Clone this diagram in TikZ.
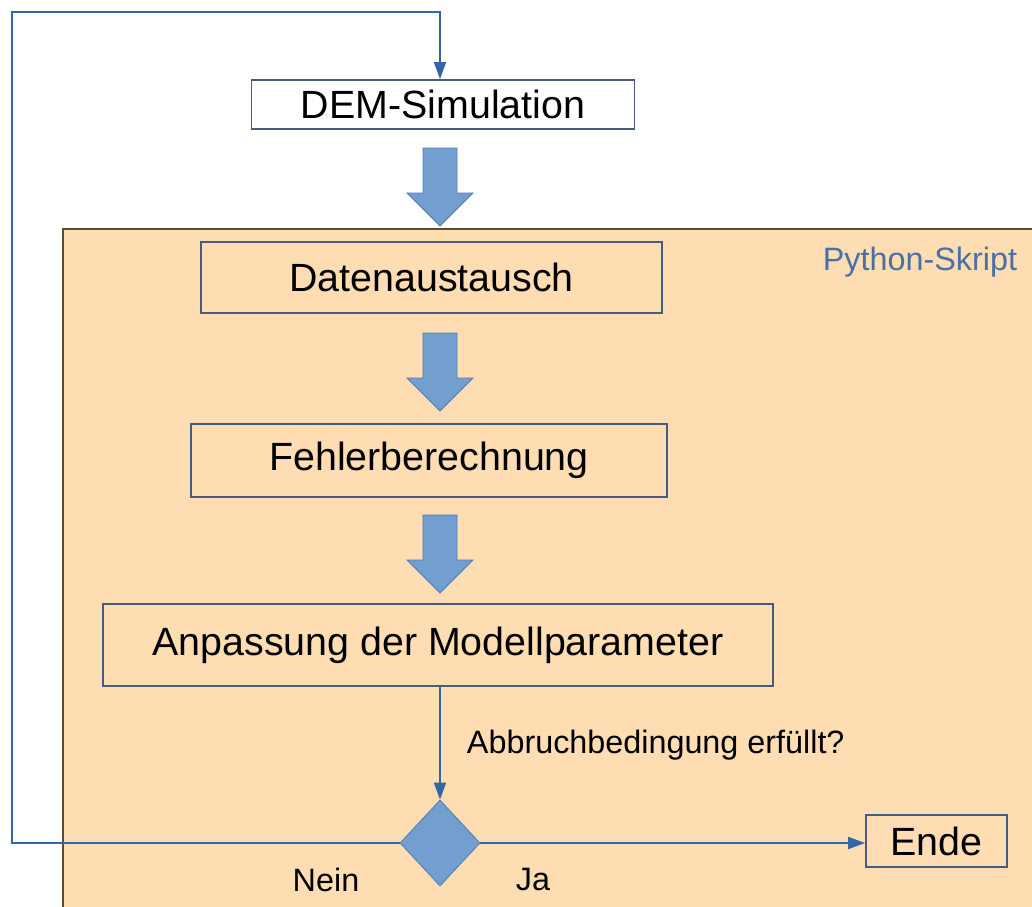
\documentclass[tikz,border=0pt]{standalone}
\usepackage{fontspec}
\setmainfont{Liberation Sans}
\usetikzlibrary{shapes.geometric,arrows.meta}
\definecolor{pyorange}{RGB}{253,221,177}
\definecolor{pyborder}{RGB}{96,74,52}
\definecolor{flowblue}{RGB}{52,101,164}
\definecolor{boxedge}{RGB}{70,92,124}
\definecolor{arrowblue}{RGB}{114,159,207}
\definecolor{arrowedge}{RGB}{82,124,180}
\definecolor{pytext}{RGB}{74,112,166}

\tikzset{
    stepbox/.style={draw=boxedge, line width=1.1pt, inner sep=0pt, font=\fontsize{28}{32}\selectfont},
    flowline/.style={draw=flowblue, line width=1.1pt, -{Triangle[length=12pt,width=8.5pt]}},
    smalltext/.style={font=\fontsize{23}{27}\selectfont},
    pics/blockarrow/.style={code={
        \draw[fill=arrowblue, draw=arrowedge, line width=0.6pt]
            (-17,0) -- (17,0) -- (17,45) -- (33,45) -- (0,78) -- (-33,45) -- (-17,45) -- cycle;
    }}
}

\begin{document}
\begin{tikzpicture}[x=0.025cm, y=-0.025cm]
    % Fix the canvas to the size of the reference
    \useasboundingbox (0,0) rectangle (1032,907);
    % Orange area of the Python script
    \fill[pyorange] (63,229) rectangle (1032,907);
    \draw[pyborder, line width=1.2pt] (63,907) -- (63,229) -- (1032,229);
    \node[smalltext, text=pytext, anchor=east] (pylabel) at (1022,262) {Python-Skript};
    % Process steps
    \node[stepbox, fill=white, minimum width=9.58cm, minimum height=1.23cm] (dem) at (443,104.5) {DEM-Simulation};
    \node[stepbox, minimum width=11.53cm, minimum height=1.78cm] (daten) at (431.5,277.5) {Datenaustausch};
    \node[stepbox, minimum width=11.9cm, minimum height=1.83cm] (fehler) at (429,460.5) {Fehlerberechnung};
    \node[stepbox, minimum width=16.75cm, minimum height=2.05cm] (anpass) at (438,645) {Anpassung der Modellparameter};
    \node[stepbox, minimum width=3.53cm, minimum height=1.3cm] (ende) at (936.5,841) {Ende};
    % Block arrows between the steps
    \foreach \y in {148,333,515}
        \pic at (440,\y) {blockarrow};
    % Decision
    \node[diamond, fill=arrowblue, draw=arrowedge, line width=0.6pt, minimum width=2cm, minimum height=2.15cm, inner sep=0pt] (check) at (440,843) {};
    \node[smalltext, anchor=west] (cond) at (462,745) {Abbruchbedingung erfüllt?};
    \node[smalltext] (nein) at (326,880) {Nein};
    \node[smalltext] (ja) at (533,880) {Ja};
    % Connectors
    \coordinate (back) at (12,12);
    \draw[flowline] (check.north |- anpass.south) -- (check.north);
    \draw[flowline] (check.east) -- (check.east -| ende.west);
    \draw[flowline] (check.west) -| (back) -| (check.north |- dem.north); % loop back
\end{tikzpicture}
\end{document}
